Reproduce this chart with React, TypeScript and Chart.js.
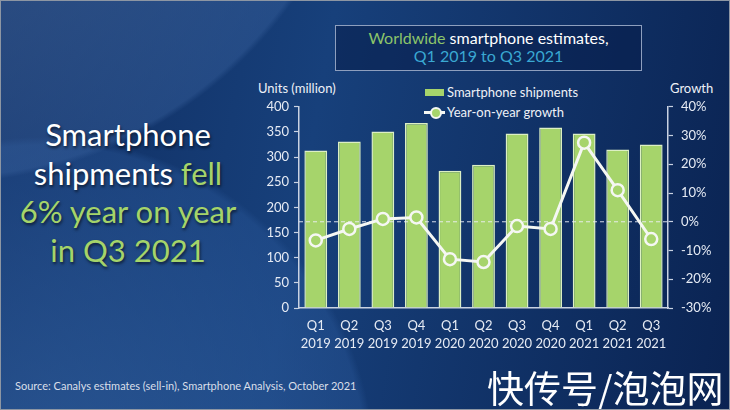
import React, { useEffect, useRef } from 'react';
import { Chart, registerables } from 'chart.js';

Chart.register(...registerables);

// ---- data ----
const quarters = ['Q1', 'Q2', 'Q3', 'Q4', 'Q1', 'Q2', 'Q3', 'Q4', 'Q1', 'Q2', 'Q3'];
const years = ['2019', '2019', '2019', '2019', '2020', '2020', '2020', '2020', '2021', '2021', '2021'];
const shipments = [313, 331, 351, 368, 273, 285, 347, 359, 347, 315, 325];
const growth = [-6.5, -2.5, 1, 1.5, -13, -14, -1.5, -2.5, 27.5, 11, -6];
const unitsRange = [0, 400, 50];
const growthRange = [-30, 40, 10];
const seriesNames = ['Smartphone shipments', 'Year-on-year growth'];

const FONT = 'Lato, "Open Sans", sans-serif';
const GREEN = '#a6d46b';
const AXIS = '#c9d2e2';
const TICK = '#e6ebf4';

const zeroLine = {
  id: 'zeroLine',
  afterDatasetDraw(chart: any, args: any) {
    if (args.index !== 0) return;
    const { ctx, chartArea } = chart;
    const y = chart.scales.y1.getPixelForValue(0);
    ctx.save();
    ctx.strokeStyle = 'rgba(236,240,246,0.9)';
    ctx.lineWidth = 1;
    ctx.setLineDash([4, 3]);
    ctx.beginPath();
    ctx.moveTo(chartArea.left, y);
    ctx.lineTo(chartArea.right, y);
    ctx.stroke();
    ctx.restore();
  },
};

function ChartCanvas() {
  const ref = useRef<HTMLCanvasElement>(null);
  useEffect(() => {
    if (!ref.current) return;
    const labels = quarters.map((q, i) => [q, years[i]]);
    const chart = new Chart(ref.current, {
      type: 'bar',
      data: {
        labels,
        datasets: [
          {
            type: 'bar',
            label: seriesNames[0],
            data: shipments,
            yAxisID: 'y',
            backgroundColor: GREEN,
            borderColor: '#dcefc4',
            borderWidth: 1.5,
            barPercentage: 0.68,
            categoryPercentage: 1,
            order: 1,
          } as any,
          {
            type: 'line',
            label: seriesNames[1],
            data: growth,
            yAxisID: 'y1',
            borderColor: '#f5f7f3',
            borderWidth: 3,
            pointRadius: 6,
            pointBorderWidth: 2.5,
            pointBackgroundColor: GREEN,
            pointBorderColor: '#f5f7f3',
            tension: 0,
            order: 0,
          } as any,
        ],
      },
      options: {
        responsive: false,
        maintainAspectRatio: false,
        animation: false,
        layout: { padding: { top: 10, left: 0, right: 0, bottom: 0 } },
        plugins: { legend: { display: false }, tooltip: { enabled: false }, title: { display: false } },
        scales: {
          x: {
            grid: { display: false, drawTicks: false },
            border: { display: true, color: AXIS, width: 1.5 },
            ticks: {
              color: TICK,
              font: { family: FONT, size: 13, lineHeight: 1.35 },
              padding: 9,
              maxRotation: 0,
              autoSkip: false,
            },
            afterFit: (s: any) => { s.height = 53; },
          },
          y: {
            position: 'left',
            min: unitsRange[0],
            max: unitsRange[1],
            ticks: { stepSize: unitsRange[2], color: TICK, font: { family: FONT, size: 13 }, padding: 5 },
            grid: { drawOnChartArea: false, tickLength: 5, tickColor: AXIS, color: AXIS, tickWidth: 1.2 },
            border: { color: AXIS, width: 1.5 },
            afterFit: (s: any) => { s.width = 48; },
          },
          y1: {
            position: 'right',
            min: growthRange[0],
            max: growthRange[1],
            ticks: {
              stepSize: growthRange[2],
              color: TICK,
              font: { family: FONT, size: 13 },
              padding: 8,
              callback: (v: any) => v + '%',
            },
            grid: { drawOnChartArea: false, tickLength: 5, tickColor: AXIS, color: AXIS, tickWidth: 1.2 },
            border: { color: AXIS, width: 1.5 },
            afterFit: (s: any) => { s.width = 53; },
          },
        },
      },
      plugins: [zeroLine],
    });
    return () => chart.destroy();
  }, []);
  return (
    <canvas
      ref={ref}
      width={470}
      height={270}
      style={{ position: 'absolute', left: 250, top: 90, width: 470, height: 270 }}
    />
  );
}

export default function App() {
  const abs: React.CSSProperties = { position: 'absolute', margin: 0, whiteSpace: 'nowrap' };
  return (
    <div
      style={{
        position: 'fixed',
        left: 0,
        top: 0,
        width: 730,
        height: 410,
        overflow: 'hidden',
        boxSizing: 'border-box',
        border: '1px solid #8d96a3',
        fontFamily: FONT,
        background: [
          'radial-gradient(circle at -60px -250px, rgba(80,115,165,0.6) 0px, rgba(55,95,155,0.45) 426px, rgba(0,0,0,0) 432px)',
          'radial-gradient(circle at 40px 470px, rgba(55,105,170,0.6) 0px, rgba(40,85,150,0.45) 326px, rgba(0,0,0,0) 334px)',
          'linear-gradient(100deg, #0f2c5f 0%, #17407b 42%, #0a2352 100%)',
        ].join(','),
      }}
    >
      {/* title box */}
      <div
        style={{
          ...abs,
          left: 334,
          top: 24,
          width: 307,
          height: 46,
          boxSizing: 'border-box',
          border: '1.5px solid #8e9fbe',
          background: 'rgba(8,30,75,0.55)',
          textAlign: 'center',
          fontSize: 16,
          lineHeight: '18px',
          paddingTop: 3,
        }}
      >
        <div>
          <span style={{ color: '#8cc46a' }}>Worldwide</span>
          <span style={{ color: '#ffffff' }}> smartphone estimates,</span>
        </div>
        <div style={{ color: '#3aa8d2' }}>Q1 2019 to Q3 2021</div>
      </div>

      {/* headline */}
      <div
        style={{
          ...abs,
          left: 0,
          top: 114,
          width: 254,
          textAlign: 'center',
          fontSize: 31,
          lineHeight: '38.5px',
          color: '#ffffff',
          textShadow: '1px 2px 3px rgba(0,0,0,0.6)',
        }}
      >
        <div>Smartphone</div>
        <div>
          shipments <span style={{ color: '#a5d46a' }}>fell</span>
        </div>
        <div style={{ color: '#a5d46a' }}>6% year on year</div>
        <div style={{ color: '#a5d46a' }}>in Q3 2021</div>
      </div>

      {/* axis titles */}
      <div style={{ ...abs, left: 257, top: 79, fontSize: 13, lineHeight: '16px', color: '#eef1f7' }}>Units (million)</div>
      <div style={{ ...abs, left: 669, top: 79, fontSize: 13, lineHeight: '16px', color: '#eef1f7' }}>Growth</div>

      {/* legend */}
      <div style={{ ...abs, left: 424, top: 88, width: 19, height: 7, background: GREEN }} />
      <div style={{ ...abs, left: 446, top: 83, fontSize: 13, lineHeight: '16px', color: '#eef1f7' }}>{seriesNames[0]}</div>
      <div style={{ ...abs, left: 423, top: 110, width: 21, height: 3, background: '#f5f7f3' }} />
      <div
        style={{
          ...abs,
          left: 429,
          top: 106,
          width: 8,
          height: 8,
          borderRadius: '50%',
          border: '2px solid #f5f7f3',
          background: GREEN,
        }}
      />
      <div style={{ ...abs, left: 446, top: 103, fontSize: 13, lineHeight: '16px', color: '#eef1f7' }}>{seriesNames[1]}</div>

      <ChartCanvas />

      {/* source */}
      <div style={{ ...abs, left: 14, top: 377, fontSize: 11, lineHeight: '15px', color: '#d9dfe9' }}>
        Source: Canalys estimates (sell-in), Smartphone Analysis, October 2021
      </div>

      {/* watermark */}
      <div
        style={{
          ...abs,
          left: 486,
          top: 364,
          fontSize: 37,
          lineHeight: '44px',
          color: '#ffffff',
          fontFamily: '"Noto Sans CJK SC", sans-serif',
        }}
      >
        快传号/泡泡网
      </div>
    </div>
  );
}
